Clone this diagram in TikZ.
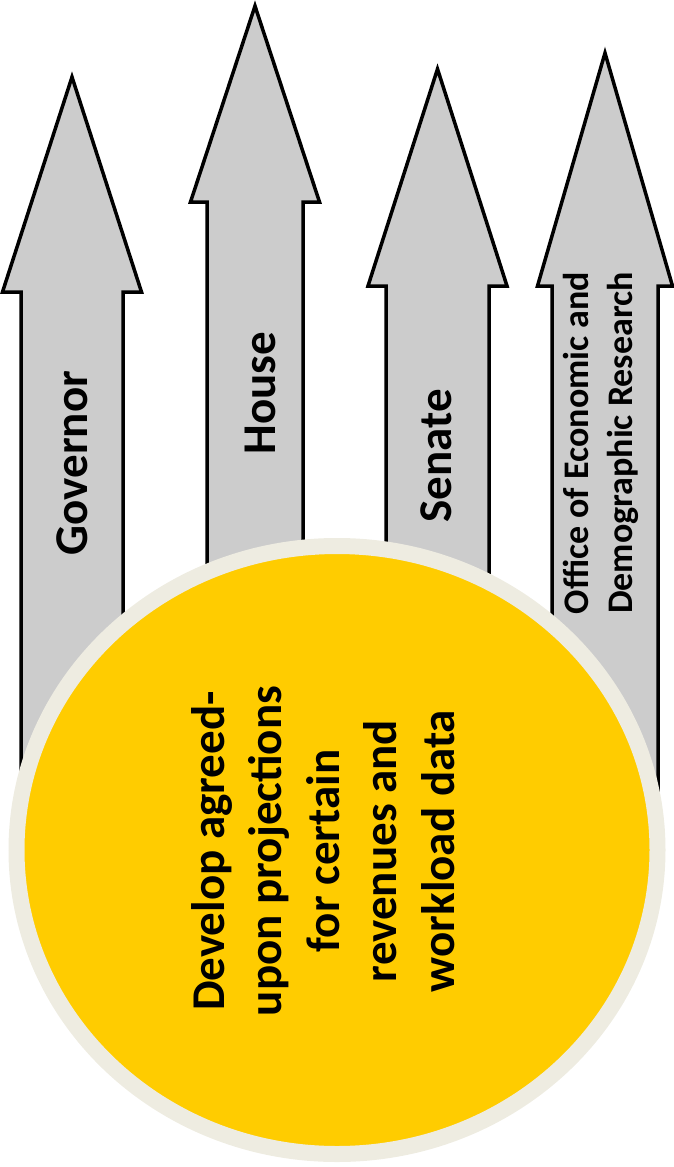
\documentclass[tikz,border=0pt]{standalone}
\usepackage{fontspec}
\setmainfont{Carlito}
\usetikzlibrary{shapes.geometric}
\definecolor{arrowgray}{RGB}{204,204,204}
\definecolor{hubyellow}{RGB}{255,204,0}
\definecolor{hubrim}{RGB}{238,236,225}
\begin{document}
\begin{tikzpicture}[x=1pt,y=-1pt,line width=3.5pt,line join=miter,arr/.style={draw=black,fill=arrowgray},lab/.style={rotate=90,inner sep=0pt,align=center,font=\bfseries\fontsize{47}{57.5}\selectfont},lab1/.style={rotate=90,inner sep=0pt,align=center,font=\bfseries\fontsize{36}{44}\selectfont}]
\useasboundingbox (0,0) rectangle (674,1167);
\foreach \c/\s/\h/\t/\b in {72/51/69.5/77/292,255/48/64.5/6/202,437.5/51.5/69.5/69/286,605/53/67.5/53/286}{\draw[arr] (\c-\s,850) -- (\c-\s,\b) -- (\c-\h,\b) -- (\c,\t) -- (\c+\h,\b) -- (\c+\s,\b) -- (\c+\s,850) -- cycle;};
\node[lab] (gov) at (72,463) {Governor};
\node[lab] (house) at (260,393) {House};
\node[lab] (senate) at (436,456) {Senate};
\node[lab1] (edr) at (601,443) {Office of Economic and\\Demographic Research};
\node[ellipse,draw=hubrim,fill=hubyellow,line width=16pt,minimum width=641pt,minimum height=608pt,inner sep=0pt] (hub) at (337,850) {};
\node[lab] (task) at (323,851) {Develop agreed-\\upon projections\\for certain\\revenues and\\workload data};
\end{tikzpicture}
\end{document}
